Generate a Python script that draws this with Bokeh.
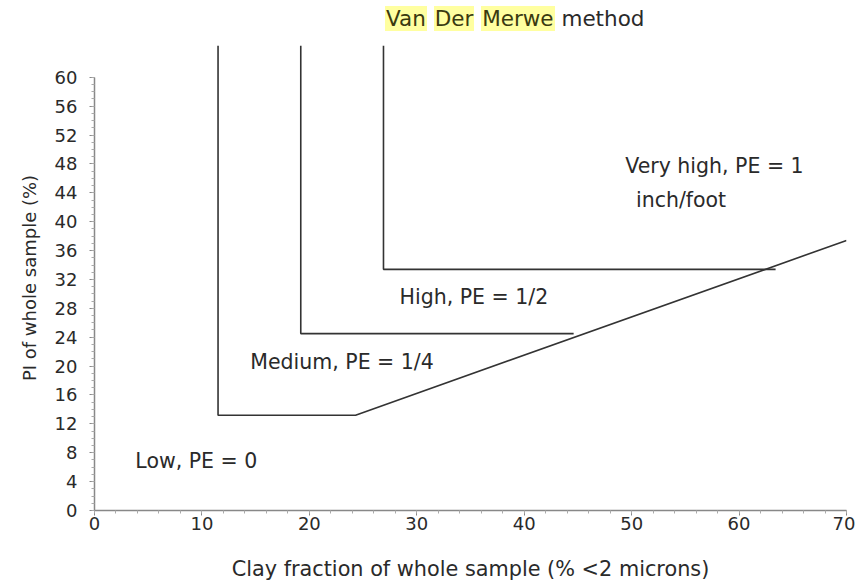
from bokeh.plotting import figure
from bokeh.models import Range1d, FixedTicker, ColumnDataSource, Div
from bokeh.layouts import column
from bokeh.embed import file_html
from bokeh.resources import INLINE
from bokeh.core.properties import value

# Boundary lines (clay fraction %, PI %)
low_x = [11.5, 11.5, 24.3, 70.0]
low_y = [64.4, 13.2, 13.2, 37.4]
med_x = [19.2, 19.2, 44.6]
med_y = [64.4, 24.5, 24.5]
high_x = [26.9, 26.9, 63.4]
high_y = [64.4, 33.4, 33.4]

zone_labels = ["Very high, PE = 1", "inch/foot", "High, PE = 1/2", "Medium, PE = 1/4", "Low, PE = 0"]
zone_x = [49.4, 50.4, 28.4, 14.5, 3.8]
zone_y = [47.7, 43.0, 29.5, 20.5, 6.8]

title_words = ["Van", "Der", "Merwe", "method"]
title_highlight = [True, True, True, False]

x_ticks = [0, 10, 20, 30, 40, 50, 60, 70]
y_ticks = [0, 4, 8, 12, 16, 20, 24, 28, 32, 36, 40, 44, 48, 52, 56, 60]

FONT = "DejaVu Sans"
TXT = "#2a2a2a"

# title (with highlighted words)
parts = []
for w, hl in zip(title_words, title_highlight):
    if hl:
        parts.append('<span style="background:#ffffa0;color:#3a3a10;padding:0 1px;">%s</span>' % w)
    else:
        parts.append('<span>%s</span>' % w)
title_html = " ".join(parts)
title = Div(text=title_html, width=855, height=45, margin=0,
            styles={"font-family": FONT, "font-size": "21.5px", "color": TXT,
                    "padding-left": "385px", "padding-top": "4px", "box-sizing": "border-box",
                    "white-space": "nowrap"})

p = figure(width=855, height=540, output_backend="svg", toolbar_location=None,
           x_range=Range1d(0, 70), y_range=Range1d(0, 64.4),
           min_border_left=94, min_border_right=9, min_border_top=0, min_border_bottom=75,
           margin=0)
p.outline_line_color = None
p.grid.visible = False
p.background_fill_color = "white"
p.border_fill_color = "white"

for xs, ys in [(low_x, low_y), (med_x, med_y), (high_x, high_y)]:
    p.line(xs, ys, line_color="#333333", line_width=1.6)

src = ColumnDataSource(dict(x=zone_x, y=zone_y, t=zone_labels))
p.text(x="x", y="y", text="t", source=src, text_font=value(FONT), text_font_size="20.5px",
       text_color=TXT, text_baseline="middle", text_align="left")

# axes
p.xaxis.ticker = FixedTicker(ticks=x_ticks, minor_ticks=list(range(0, 71, 2)))
p.yaxis.ticker = FixedTicker(ticks=y_ticks, minor_ticks=list(range(0, 61, 1)))
p.yaxis.bounds = (0, 60)
for ax in (p.xaxis[0], p.yaxis[0]):
    ax.axis_line_color = "#888888"
    ax.axis_line_width = 1.5
    ax.major_tick_line_color = "#888888"
    ax.minor_tick_line_color = "#aaaaaa"
    ax.major_tick_in = 0
    ax.major_tick_out = 5
    ax.minor_tick_in = 0
    ax.minor_tick_out = 3
    ax.major_label_text_font = FONT
    ax.major_label_text_font_size = "18px"
    ax.major_label_text_color = TXT
    ax.axis_label_text_font = FONT
    ax.axis_label_text_font_style = "normal"
    ax.axis_label_text_color = TXT
p.xaxis.axis_label = "Clay fraction of whole sample (% <2 microns)"
p.yaxis.axis_label = "PI of whole sample (%)"
p.xaxis.axis_label_text_font_size = "20.8px"
p.yaxis.axis_label_text_font_size = "18px"
p.yaxis.major_label_standoff = 12
p.xaxis.major_label_standoff = 1
p.xaxis.axis_label_standoff = 24
p.yaxis.axis_label_standoff = 12

layout = column(title, p, spacing=0)
open("out.html", "w").write(file_html(layout, INLINE))
